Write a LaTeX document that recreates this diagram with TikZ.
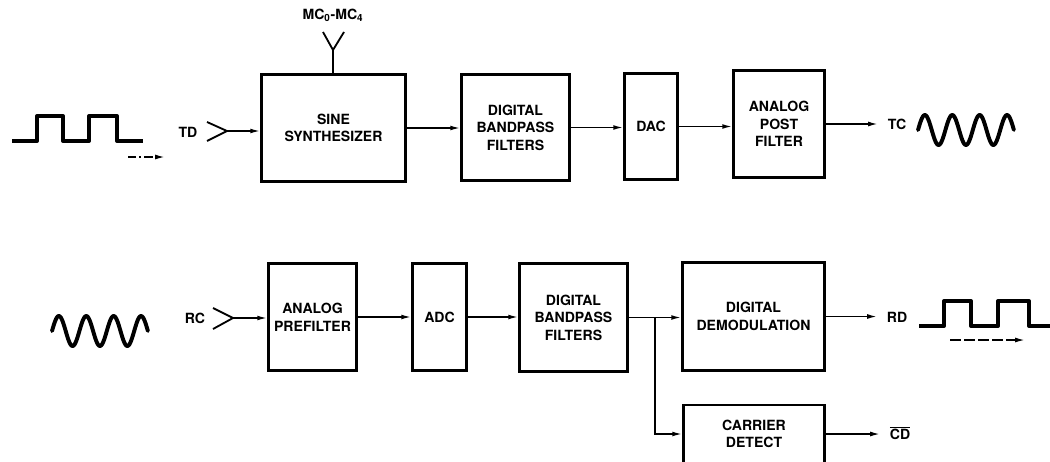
\documentclass[tikz,border=0pt]{standalone}
\usepackage{fontspec}
\setmainfont{TeX Gyre Heros}
\usetikzlibrary{arrows.meta}

\begin{document}
\begin{tikzpicture}[x=0.025cm, y=-0.025cm,
    blk/.style 2 args={draw, line width=2pt, align=center, inner sep=0pt,
        minimum width=#1*0.025cm, minimum height=#2*0.025cm,
        font=\bfseries\fontsize{10}{12.5}\selectfont},
    sig/.style={line width=1.1pt, -{Latex[length=7pt,width=3.5pt]}},
    lbl/.style={font=\bfseries\fontsize{10}{12}\selectfont, inner sep=0pt, outer xsep=7pt},
    wave/.style={line width=2.8pt, line join=round, line cap=round},
    ant/.style={line width=1.3pt}]
    \useasboundingbox (0,0) rectangle (1050,461);

    % Wave shape
    \def\per{27.4}
    \def\amp{15}

    % Transmit path
    \node[blk={144}{107}] (synth) at (333.5,128) {SINE\\SYNTHESIZER};
    \node[blk={108}{106}] (bpt) at (515.5,127.5) {DIGITAL\\BANDPASS\\FILTERS};
    \node[blk={53}{106}] (dac) at (651,126.5) {DAC};
    \node[blk={91}{107}] (post) at (779,124) {ANALOG\\POST\\FILTER};
    \node[lbl] (td) at (188,132) {TD};
    \node[lbl] (tc) at (897,124) {TC};
    \node[lbl] (mc) at (333,15) {MC\textsubscript{0}-MC\textsubscript{4}};

    \coordinate (tdv) at (227,131);
    \draw[ant] (tdv) ++(-20,-9) -- (tdv) -- ++(-20,10);
    \draw[sig] (tdv) -- (tdv -| synth.west);
    \coordinate (mcv) at (333,50);
    \draw[ant] (mcv) ++(-10,-18) -- (mcv) -- ++(11,-18);
    \draw[ant] (mcv) -- (mcv |- synth.north);

    \draw[sig] (synth.east) -- (synth.east -| bpt.west);
    \draw[sig] (bpt.east) -- (bpt.east -| dac.west);
    \draw[sig] (dac.east) -- (dac.east -| post.west);
    \draw[sig] (post.east) -- (post.east -| tc.west);

    % Data in / carrier out
    \draw[wave, line cap=butt] (12,141) -- (37,141) -- (37,116) -- (63,116) -- (63,141)
        -- (89,141) -- (89,116) -- (117,116) -- (117,141) -- (143,141);
    \draw[sig, dash pattern=on 6pt off 2pt on 1.5pt off 2pt] (128,157) -- (165,157);
    \draw[wave] plot[domain=0:3.5, samples=120] ({918+\x*\per}, {130-\amp*sin(\x*360)});

    % Receive path
    \node[blk={88}{107}] (pre) at (312.5,317) {ANALOG\\PREFILTER};
    \node[blk={54}{107}] (adc) at (439.5,317) {ADC};
    \node[blk={108}{108}] (bpr) at (573.5,317.5) {DIGITAL\\BANDPASS\\FILTERS};
    \node[blk={142}{108}] (demod) at (753.5,316.5) {DIGITAL\\DEMODULATION};
    \node[blk={141}{58}] (carrier) at (754,434) {CARRIER\\DETECT};
    \node[lbl] (rc) at (195,318) {RC};
    \node[lbl] (rd) at (897,317) {RD};
    \node[lbl] (cd) at (900,433) {$\overline{\mbox{CD}}$};

    \coordinate (rcv) at (233,318);
    \draw[ant] (rcv) ++(-20,-10) -- (rcv) -- ++(-20,11);
    \draw[sig] (rcv) -- (rcv -| pre.west);

    \draw[sig] (pre.east) -- (pre.east -| adc.west);
    \draw[sig] (adc.east) -- (adc.east -| bpr.west);
    \path (bpr.east) ++(26,0) coordinate (split);
    \draw[line width=1.1pt] (bpr.east) -- (split);
    \draw[sig] (split) -- (split -| demod.west);
    \draw[sig] (split) |- (carrier.west);
    \draw[sig] (demod.east) -- (demod.east -| rd.west);
    \draw[sig] (carrier.east) -- (carrier.east -| cd.west);

    % Carrier in / data out
    \draw[wave] plot[domain=0:3.5, samples=120] ({52+\x*\per}, {331-\amp*sin(\x*360)});
    \draw[wave, line cap=butt] (919,326) -- (944,326) -- (944,301) -- (971,301) -- (971,326)
        -- (998,326) -- (998,301) -- (1029,301) -- (1029,326) -- (1052,326);
    \draw[sig, dash pattern=on 8pt off 2pt] (950,340) -- (1025,340);

\end{tikzpicture}
\end{document}
